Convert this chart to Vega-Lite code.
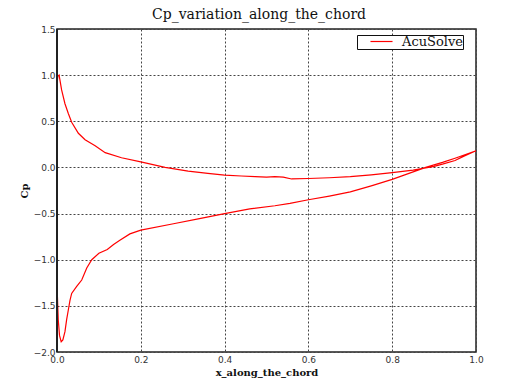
{
  "$schema": "https://vega.github.io/schema/vega-lite/v6.json",
  "autosize": "none",
  "width": 419,
  "height": 323,
  "padding": {"left": 57, "top": 29, "right": 42, "bottom": 32},
  "background": "white",
  "title": {
    "text": "Cp_variation_along_the_chord",
    "font": "DejaVu Serif",
    "fontSize": 14,
    "fontWeight": "normal",
    "color": "#111",
    "anchor": "middle",
    "baseline": "alphabetic",
    "offset": 4,
    "dy": 11.5,
    "dx": -7.5
  },
  "config": {
    "view": {"stroke": "#222", "strokeWidth": 1.5},
    "axis": {
      "labelFont": "DejaVu Sans",
      "labelFontSize": 9,
      "labelColor": "#333",
      "grid": true,
      "gridColor": "#444",
      "gridDash": [2, 2],
      "gridWidth": 1,
      "gridOpacity": 1,
      "domain": false,
      "ticks": false,
      "labelFlush": false,
      "labelOverlap": false,
      "titleFont": "DejaVu Serif",
      "titleFontSize": 10,
      "titleFontWeight": "bold",
      "titleColor": "#111"
    }
  },
  "data": {
    "values": [
      {"i": 1, "x": 1.0, "cp": 0.18, "s": "AcuSolve"},
      {"i": 2, "x": 0.97, "cp": 0.12, "s": "AcuSolve"},
      {"i": 3, "x": 0.95, "cp": 0.075, "s": "AcuSolve"},
      {"i": 4, "x": 0.92, "cp": 0.035, "s": "AcuSolve"},
      {"i": 5, "x": 0.9, "cp": 0.012, "s": "AcuSolve"},
      {"i": 6, "x": 0.88, "cp": -0.005, "s": "AcuSolve"},
      {"i": 7, "x": 0.85, "cp": -0.03, "s": "AcuSolve"},
      {"i": 8, "x": 0.8, "cp": -0.057, "s": "AcuSolve"},
      {"i": 9, "x": 0.75, "cp": -0.08, "s": "AcuSolve"},
      {"i": 10, "x": 0.7, "cp": -0.1, "s": "AcuSolve"},
      {"i": 11, "x": 0.65, "cp": -0.112, "s": "AcuSolve"},
      {"i": 12, "x": 0.6, "cp": -0.12, "s": "AcuSolve"},
      {"i": 13, "x": 0.56, "cp": -0.125, "s": "AcuSolve"},
      {"i": 14, "x": 0.54, "cp": -0.105, "s": "AcuSolve"},
      {"i": 15, "x": 0.52, "cp": -0.1, "s": "AcuSolve"},
      {"i": 16, "x": 0.5, "cp": -0.105, "s": "AcuSolve"},
      {"i": 17, "x": 0.473, "cp": -0.1, "s": "AcuSolve"},
      {"i": 18, "x": 0.44, "cp": -0.093, "s": "AcuSolve"},
      {"i": 19, "x": 0.4, "cp": -0.083, "s": "AcuSolve"},
      {"i": 20, "x": 0.36, "cp": -0.065, "s": "AcuSolve"},
      {"i": 21, "x": 0.313, "cp": -0.04, "s": "AcuSolve"},
      {"i": 22, "x": 0.258, "cp": 0.0, "s": "AcuSolve"},
      {"i": 23, "x": 0.2, "cp": 0.061, "s": "AcuSolve"},
      {"i": 24, "x": 0.154, "cp": 0.105, "s": "AcuSolve"},
      {"i": 25, "x": 0.115, "cp": 0.16, "s": "AcuSolve"},
      {"i": 26, "x": 0.091, "cp": 0.235, "s": "AcuSolve"},
      {"i": 27, "x": 0.067, "cp": 0.3, "s": "AcuSolve"},
      {"i": 28, "x": 0.051, "cp": 0.37, "s": "AcuSolve"},
      {"i": 29, "x": 0.035, "cp": 0.49, "s": "AcuSolve"},
      {"i": 30, "x": 0.027, "cp": 0.585, "s": "AcuSolve"},
      {"i": 31, "x": 0.019, "cp": 0.69, "s": "AcuSolve"},
      {"i": 32, "x": 0.011, "cp": 0.84, "s": "AcuSolve"},
      {"i": 33, "x": 0.005, "cp": 1.0, "s": "AcuSolve"},
      {"i": 34, "x": 0.002, "cp": 0.99, "s": "AcuSolve"},
      {"i": 35, "x": 0.0, "cp": 0.9, "s": "AcuSolve"},
      {"i": 36, "x": 0.0, "cp": -1.2, "s": "AcuSolve"},
      {"i": 37, "x": 0.001, "cp": -1.4, "s": "AcuSolve"},
      {"i": 38, "x": 0.003, "cp": -1.65, "s": "AcuSolve"},
      {"i": 39, "x": 0.006, "cp": -1.82, "s": "AcuSolve"},
      {"i": 40, "x": 0.01, "cp": -1.89, "s": "AcuSolve"},
      {"i": 41, "x": 0.014, "cp": -1.87, "s": "AcuSolve"},
      {"i": 42, "x": 0.019, "cp": -1.78, "s": "AcuSolve"},
      {"i": 43, "x": 0.023, "cp": -1.65, "s": "AcuSolve"},
      {"i": 44, "x": 0.027, "cp": -1.545, "s": "AcuSolve"},
      {"i": 45, "x": 0.031, "cp": -1.44, "s": "AcuSolve"},
      {"i": 46, "x": 0.035, "cp": -1.365, "s": "AcuSolve"},
      {"i": 47, "x": 0.047, "cp": -1.29, "s": "AcuSolve"},
      {"i": 48, "x": 0.059, "cp": -1.22, "s": "AcuSolve"},
      {"i": 49, "x": 0.071, "cp": -1.09, "s": "AcuSolve"},
      {"i": 50, "x": 0.083, "cp": -1.0, "s": "AcuSolve"},
      {"i": 51, "x": 0.1, "cp": -0.93, "s": "AcuSolve"},
      {"i": 52, "x": 0.12, "cp": -0.89, "s": "AcuSolve"},
      {"i": 53, "x": 0.135, "cp": -0.835, "s": "AcuSolve"},
      {"i": 54, "x": 0.15, "cp": -0.79, "s": "AcuSolve"},
      {"i": 55, "x": 0.174, "cp": -0.72, "s": "AcuSolve"},
      {"i": 56, "x": 0.2, "cp": -0.68, "s": "AcuSolve"},
      {"i": 57, "x": 0.278, "cp": -0.61, "s": "AcuSolve"},
      {"i": 58, "x": 0.34, "cp": -0.555, "s": "AcuSolve"},
      {"i": 59, "x": 0.4, "cp": -0.5, "s": "AcuSolve"},
      {"i": 60, "x": 0.46, "cp": -0.45, "s": "AcuSolve"},
      {"i": 61, "x": 0.52, "cp": -0.415, "s": "AcuSolve"},
      {"i": 62, "x": 0.556, "cp": -0.39, "s": "AcuSolve"},
      {"i": 63, "x": 0.6, "cp": -0.35, "s": "AcuSolve"},
      {"i": 64, "x": 0.65, "cp": -0.31, "s": "AcuSolve"},
      {"i": 65, "x": 0.7, "cp": -0.265, "s": "AcuSolve"},
      {"i": 66, "x": 0.75, "cp": -0.2, "s": "AcuSolve"},
      {"i": 67, "x": 0.8, "cp": -0.13, "s": "AcuSolve"},
      {"i": 68, "x": 0.84, "cp": -0.065, "s": "AcuSolve"},
      {"i": 69, "x": 0.88, "cp": 0.0, "s": "AcuSolve"},
      {"i": 70, "x": 0.92, "cp": 0.055, "s": "AcuSolve"},
      {"i": 71, "x": 0.95, "cp": 0.1, "s": "AcuSolve"},
      {"i": 72, "x": 0.975, "cp": 0.14, "s": "AcuSolve"},
      {"i": 73, "x": 1.0, "cp": 0.18, "s": "AcuSolve"}
    ]
  },
  "layer": [
    {
      "mark": {"type": "line", "strokeWidth": 1.2, "interpolate": "linear"},
      "encoding": {
        "x": {
          "field": "x",
          "type": "quantitative",
          "scale": {"domain": [0, 1], "nice": false, "zero": false},
          "axis": {"values": [0, 0.2, 0.4, 0.6, 0.8, 1.0], "format": ".1f", "title": "x_along_the_chord", "labelPadding": 3, "titlePadding": 3}
        },
        "y": {
          "field": "cp",
          "type": "quantitative",
          "scale": {"domain": [-2, 1.5], "nice": false, "zero": false},
          "axis": {"values": [-2, -1.5, -1, -0.5, 0, 0.5, 1, 1.5], "format": ".1f", "title": "Cp", "labelPadding": 2, "titlePadding": 4}
        },
        "order": {"field": "i", "type": "quantitative"},
        "color": {
          "field": "s",
          "type": "nominal",
          "scale": {"range": ["#ff0000"]},
          "legend": {
            "title": null,
            "orient": "none",
            "legendX": 300,
            "legendY": 6,
            "padding": 0,
            "strokeColor": "#111",
            "cornerRadius": 0,
            "fillColor": "white",
            "symbolType": "M-3,0L3,0",
            "symbolSize": 54,
            "symbolStrokeWidth": 1.2,
            "symbolOffset": 18,
            "labelOffset": 14,
            "labelFont": "DejaVu Serif",
            "labelFontSize": 13,
            "labelColor": "#111",
            "labelLimit": 200,
            "labelExpr": "datum.label + '  '"
          }
        }
      }
    },
    {
      "mark": {"type": "rule", "color": "#222", "strokeWidth": 1.5},
      "encoding": {"x": {"datum": 0}}
    }
  ]
}
